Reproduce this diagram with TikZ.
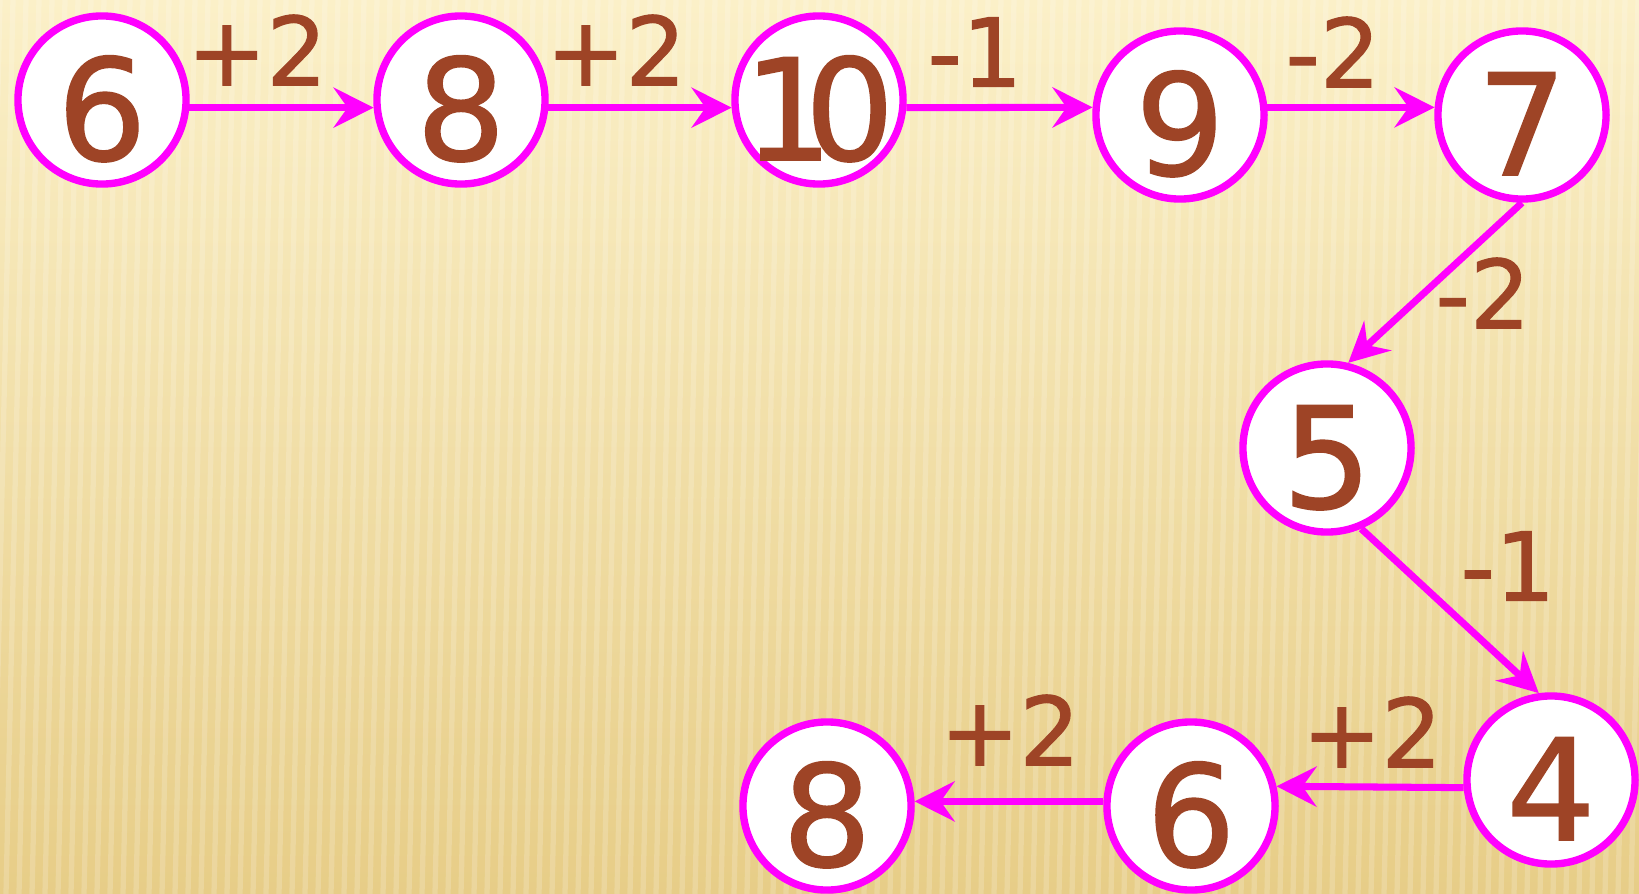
\documentclass[tikz,border=0pt]{standalone}
\usepackage{fontspec}
\setmainfont{DejaVu Sans}
\newfontfamily\digitfont[FakeBold=1.2]{DejaVu Sans}
\usetikzlibrary{arrows.meta}
\definecolor{ring}{RGB}{255,0,255}
\definecolor{digit}{RGB}{158,68,38}
\definecolor{bgtop}{RGB}{251,240,200}
\definecolor{bgbot}{RGB}{231,205,135}

\begin{document}
\begin{tikzpicture}[x=0.01cm,y=-0.01cm,
  num/.style={circle,draw=ring,fill=white,line width=2.1pt,minimum size=1.68cm,inner sep=0pt,text=digit,text height=1.2cm,text depth=0pt,font=\digitfont\fontsize{40}{40}\selectfont},
  lbl/.style={text=digit,inner sep=0pt,font=\digitfont\fontsize{27}{27}\selectfont},
  arr/.style={draw=ring,line width=2pt,-{Stealth[length=0.4cm,width=0.4cm,inset=0.14cm]}}]
\useasboundingbox (0,0) rectangle (1639,894);
\fill[top color=bgtop,bottom color=bgbot] (0,0) rectangle (1639,894);
\foreach \x in {0,13,...,1660}
  \draw[white,opacity=0.18,line width=1.5pt] (\x,0) -- (\x-20,894);
\node[num] (n1) at (102,100) {6};
\node[num] (n2) at (461,100) {8};
\node[num] (n3) at (819,100) {\makebox[0pt]{1\kern-0.2em0}};
\node[num] (n4) at (1180,115) {9};
\node[num] (n5) at (1522,115) {7};
\node[num] (n6) at (1327,448) {5};
\node[num] (n7) at (1551,780) {4};
\node[num] (n8) at (1191,806) {6};
\node[num] (n9) at (827,806) {8};
\draw[arr] (n1.-5) -- (n2.185);
\draw[arr] (n2.-5) -- (n3.185);
\draw[arr] (n3.-5) -- (n4.175);
\draw[arr] (n4.5) -- (n5.175);
\draw[arr] (n5.south) -- (n6.76);
\draw[arr] (n6.-67) -- (n7.98);
\draw[arr] (n7.185) -- (n8.13);
\draw[arr] (n8.177) -- (n9.3);
\node[lbl] (l1) at (257,50) {+2};
\node[lbl] (l2) at (616,50) {+2};
\node[lbl] (l3) at (975,52) {-1};
\node[lbl] (l4) at (1333,52) {-2};
\node[lbl] (l5) at (1483,293) {-2};
\node[lbl] (l6) at (1508,566) {-1};
\node[lbl] (l7) at (1372,732) {+2};
\node[lbl] (l8) at (1010,730) {+2};
\end{tikzpicture}
\end{document}
